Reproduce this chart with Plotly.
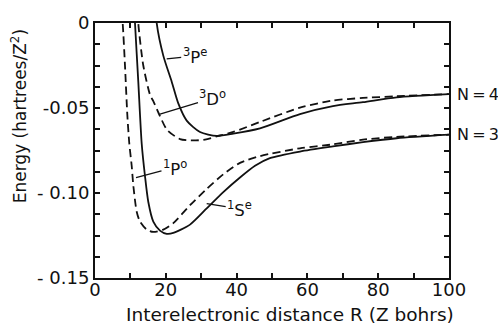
import plotly.graph_objects as go

# ---- data (R in Z bohrs, energy in hartrees/Z^2) ----
p1_R = [7.49, 7.82, 8.47, 9.12, 9.69, 10.37, 10.82, 11.78, 12.71, 14.60, 16.47, 19.29, 22.12,
        26.84, 31.55, 36.24, 40.96, 46.61, 57.9, 67.2, 75.7, 85.2, 100]
p1_E = [0.0066, -0.0001, -0.0250, -0.0536, -0.0709, -0.0841, -0.0955, -0.1110, -0.1168, -0.1215,
        -0.1229, -0.1215, -0.1177, -0.1072, -0.0976, -0.0890, -0.0823, -0.0783, -0.0737, -0.0714,
        -0.0686, -0.0670, -0.0657]

s1_R = [11.16, 11.30, 12.23, 13.19, 14.12, 15.06, 16.47, 18.36, 20.25, 22.12, 26.84, 31.55,
        36.24, 40.96, 45.2, 49.4, 57.9, 67.2, 75.7, 85.2, 100]
s1_E = [0.0066, -0.0001, -0.0345, -0.0709, -0.0900, -0.1053, -0.1168, -0.1221, -0.1240, -0.1235,
        -0.1186, -0.1091, -0.0995, -0.0909, -0.0840, -0.0795, -0.0756, -0.0726, -0.0701, -0.0678,
        -0.0657]

d3_R = [12.15, 12.23, 13.64, 15.54, 16.47, 18.36, 20.34, 24.0, 27.77, 31.07, 34.38, 39.07,
        46.61, 57.9, 67.2, 75.7, 85.2, 100]
d3_E = [0.0066, -0.0001, -0.0250, -0.0422, -0.0460, -0.0548, -0.0628, -0.0683, -0.0691, -0.0686,
        -0.0667, -0.0641, -0.0582, -0.0498, -0.0456, -0.0441, -0.0431, -0.0418]

p3_R = [17.23, 17.43, 19.29, 21.67, 23.53, 25.9, 29.66, 34.38, 39.07, 46.61, 57.9, 67.2,
        75.7, 85.2, 100]
p3_E = [0.0066, -0.0001, -0.0192, -0.0345, -0.0473, -0.0574, -0.0641, -0.0664, -0.0651, -0.0620,
        -0.0536, -0.0489, -0.0466, -0.0437, -0.0418]

x_ticks = [0, 20, 40, 60, 80, 100]
x_ticktext = ["0", "20", "40", "60", "80", "100"]
y_ticks = [0, -0.05, -0.10, -0.15]
y_ticktext = ["0", "-0.05", "- 0.10", "- 0.15"]

FONT = "DejaVu Sans"
BLACK = "#111111"

fig = go.Figure()
series = [
    (p1_R, p1_E, "dash"),
    (s1_R, s1_E, "solid"),
    (d3_R, d3_E, "dash"),
    (p3_R, p3_E, "solid"),
]
for xs, ys, style in series:
    fig.add_trace(go.Scatter(
        x=xs, y=ys, mode="lines",
        line=dict(color=BLACK, width=1.8, shape="spline", smoothing=0.7,
                  dash=("8px,4.5px" if style == "dash" else "solid")),
        showlegend=False, hoverinfo="skip", cliponaxis=True,
    ))

axis_common = dict(
    showgrid=False, zeroline=False, showline=True, linecolor=BLACK, linewidth=2,
    mirror="ticks", ticks="inside", ticklen=5, tickwidth=1.5, tickcolor=BLACK,
    tickfont=dict(family=FONT, size=18, color=BLACK),
)
fig.update_xaxes(range=[0, 100], tickmode="array", tickvals=x_ticks, ticktext=x_ticktext,
                 ticklabelstandoff=-6,
                 minor=dict(dtick=10, ticks="inside", ticklen=5, tickwidth=1.5, tickcolor=BLACK),
                 **axis_common)
fig.update_yaxes(range=[-0.15, 0], tickmode="array", tickvals=y_ticks, ticktext=y_ticktext,
                 minor=dict(dtick=0.0125, tick0=0, ticks="inside", ticklen=5, tickwidth=1.5,
                            tickcolor=BLACK),
                 **axis_common)

lab_font = dict(family=FONT, size=16.5, color=BLACK)
labels = [
    ("<sup>1</sup>P<sup>o</sup>", 11.58, -0.0909, 39, -10),
    ("<sup>1</sup>S<sup>e</sup>", 31.55, -0.1063, 33, 5),
    ("<sup>3</sup>P<sup>e</sup>", 20.25, -0.0211, 28, -3),
    ("<sup>3</sup>D<sup>o</sup>", 18.36, -0.0536, 53, -16),
]
for txt, x, y, ax, ay in labels:
    fig.add_annotation(x=x, y=y, text=txt, showarrow=True, arrowhead=0, arrowwidth=1.3,
                       arrowcolor=BLACK, ax=ax, ay=ay, font=lab_font)

fig.add_annotation(xref="paper", x=1.017, yref="y", y=d3_E[-1], text="N\u2009=\u20094",
                   showarrow=False, xanchor="left", yanchor="middle",
                   font=dict(family=FONT, size=16, color=BLACK))
fig.add_annotation(xref="paper", x=1.017, yref="y", y=p1_E[-1], text="N\u2009=\u20093",
                   showarrow=False, xanchor="left", yanchor="middle",
                   font=dict(family=FONT, size=16, color=BLACK))

fig.add_annotation(xref="paper", yref="paper", x=0.551, y=-0.145, xanchor="center",
                   yanchor="middle",
                   text="Interelectronic distance R (Z bohrs)", showarrow=False,
                   font=dict(family=FONT, size=18.5, color=BLACK))
fig.add_annotation(xref="paper", yref="paper", x=-0.2147, y=0.634, xanchor="center",
                   yanchor="middle",
                   text="Energy (hartrees/Z<sup>2</sup>)", showarrow=False, textangle=-90,
                   font=dict(family=FONT, size=17, color=BLACK))

fig.update_layout(
    width=498, height=325,
    margin=dict(l=95, r=49, t=16, b=47),
    paper_bgcolor="white", plot_bgcolor="white",
    font=dict(family=FONT, color=BLACK),
)
fig.write_html("out.html", config={"displayModeBar": False},
               post_script="document.body.style.margin='0';document.body.style.overflow='hidden';")
